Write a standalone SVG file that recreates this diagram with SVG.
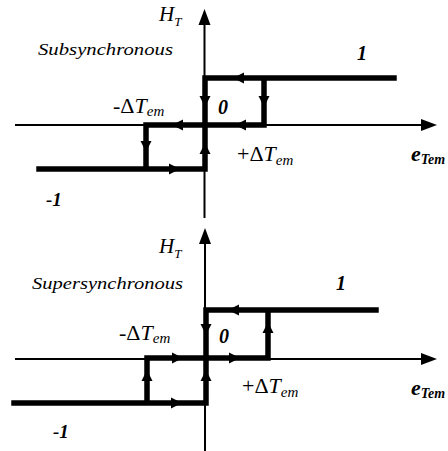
<svg xmlns="http://www.w3.org/2000/svg" width="448" height="451" viewBox="0 0 448 451">
<style>
.axis{stroke:#000;stroke-width:2;fill:none}
.thick{stroke:#000;stroke-width:5.5;fill:none;stroke-linecap:square}
text{font-family:'Liberation Serif','DejaVu Serif',serif;font-style:italic;fill:#000}
.b{font-weight:bold}
</style>
<defs>
<path id="ah" d="M0,0 L-11,-5.5 L-11,5.5 Z" fill="#000"/>
<path id="ax" d="M0,0 L-16,-6 L-16,6 Z" fill="#000"/>
</defs>
<rect width="448" height="451" fill="#fff"/>

<g id="top-axes">
<line class="axis" x1="204.5" y1="218" x2="204.5" y2="20"/>
<use href="#ax" transform="translate(204.5,9) rotate(-90)"/>
<line class="axis" x1="15" y1="125" x2="424" y2="125"/>
<use href="#ax" transform="translate(437,125)"/>
</g>
<g id="top-connectors">
<path class="thick" d="M205,78 H394 M264,78 V125 M146,125 H264 M146,125 V169 M39,169 H205 M205,78 V169"/>
<use href="#ah" transform="translate(233,78) rotate(180)"/>
<use href="#ah" transform="translate(264,107) rotate(90)"/>
<use href="#ah" transform="translate(205,107) rotate(90)"/>
<use href="#ah" transform="translate(235,125) rotate(180)"/>
<use href="#ah" transform="translate(172,125) rotate(180)"/>
<use href="#ah" transform="translate(146,152) rotate(90)"/>
<use href="#ah" transform="translate(205,143) rotate(-90)"/>
<use href="#ah" transform="translate(180,169)"/>
</g>
<g id="top-labels">
<text x="159" y="21" font-size="21">H<tspan font-size="13" dy="5">T</tspan></text>
<text x="38" y="55" font-size="17" textLength="135" lengthAdjust="spacingAndGlyphs">Subsynchronous</text>
<text class="b" x="357" y="60" font-size="20">1</text>
<text x="113" y="113" font-size="22"><tspan font-style="normal">-Δ</tspan>T<tspan font-size="15" dy="3">em</tspan></text>
<text class="b" x="218" y="114" font-size="20">0</text>
<text x="237" y="161" font-size="22"><tspan font-style="normal">+Δ</tspan>T<tspan font-size="15" dy="4">em</tspan></text>
<text class="b" x="411" y="161" font-size="22">e<tspan font-size="14" dy="3">Tem</tspan></text>
<text class="b" x="46" y="206" font-size="19">-1</text>
</g>

<g id="bottom-axes">
<line class="axis" x1="205" y1="451" x2="205" y2="240"/>
<use href="#ax" transform="translate(205,228) rotate(-90)"/>
<line class="axis" x1="15" y1="359" x2="424" y2="359"/>
<use href="#ax" transform="translate(437,359)"/>
</g>
<g id="bottom-connectors">
<path class="thick" d="M206,310 H376 M268,310 V358 M147,358 H268 M147,358 V403 M14,403 H206 M206,310 V403"/>
<use href="#ah" transform="translate(228,310) rotate(180)"/>
<use href="#ah" transform="translate(206,335) rotate(90)"/>
<use href="#ah" transform="translate(183,358)"/>
<use href="#ah" transform="translate(240,358)"/>
<use href="#ah" transform="translate(268,322) rotate(-90)"/>
<use href="#ah" transform="translate(147,370) rotate(-90)"/>
<use href="#ah" transform="translate(206,370) rotate(-90)"/>
<use href="#ah" transform="translate(182,403)"/>
</g>
<g id="bottom-labels">
<text x="159" y="253" font-size="21">H<tspan font-size="13" dy="5">T</tspan></text>
<text x="32" y="289" font-size="17" textLength="151" lengthAdjust="spacingAndGlyphs">Supersynchronous</text>
<text class="b" x="336" y="290" font-size="20">1</text>
<text x="119" y="340" font-size="22"><tspan font-style="normal">-Δ</tspan>T<tspan font-size="15" dy="3">em</tspan></text>
<text class="b" x="219" y="343" font-size="20">0</text>
<text x="242" y="393" font-size="22"><tspan font-style="normal">+Δ</tspan>T<tspan font-size="15" dy="4">em</tspan></text>
<text class="b" x="411" y="395" font-size="22">e<tspan font-size="14" dy="3">Tem</tspan></text>
<text class="b" x="53" y="438" font-size="19">-1</text>
</g>
</svg>
